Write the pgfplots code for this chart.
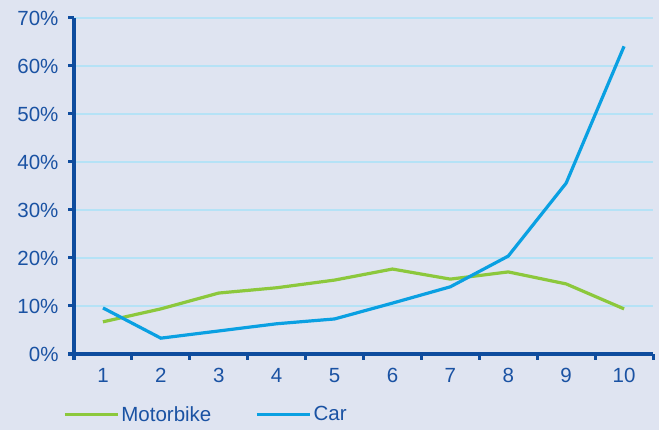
\documentclass[border=0pt]{standalone}
\usepackage{pgfplots}
\pgfplotsset{compat=1.18}
\usepackage{fontspec}
\setmainfont{Liberation Sans}
\definecolor{bg}{HTML}{DFE4F1}
\definecolor{gridc}{HTML}{B5E2F6}
\definecolor{axc}{HTML}{0E4C9E}
\definecolor{txt}{HTML}{1A52A3}
\definecolor{moto}{HTML}{8CC83C}
\definecolor{car}{HTML}{0AA0E2}
\begin{document}
\begin{tikzpicture}
\fill[bg] (0,0) rectangle (659bp,430bp);
\begin{axis}[
  at={(74bp,76bp)}, anchor=south west,
  width=579bp, height=336bp, scale only axis,
  xmin=0.5, xmax=10.5, ymin=0, ymax=70,
  xtick={0.5,1.5,...,10.5},
  xticklabels={1,2,3,4,5,6,7,8,9,10},
  x tick label as interval,
  ytick={0,10,...,70},
  yticklabels={0\%,10\%,20\%,30\%,40\%,50\%,60\%,70\%},
  axis lines*=left,
  axis line style={axc, line width=3bp},
  tick align=outside,
  major tick length=6bp,
  tick style={axc, line width=3bp},
  ymajorgrids,
  major grid style={gridc, line width=2bp},
  ticklabel style={font=\fontsize{20.5bp}{23bp}\selectfont, text=txt},
  yticklabel style={xshift=-6bp},
  xticklabel style={yshift=-5bp},
  legend columns=2,
  legend style={at={(-0.019,-0.18)}, anchor=west, draw=none, fill=none,
    font=\fontsize{20.5bp}{23bp}\selectfont, text=txt,
    /tikz/every even column/.append style={column sep=42bp},
    inner sep=0pt},
  legend image code/.code={\draw[#1] (0bp,0bp) -- (53bp,0bp);},
  clip=false,
]
\addplot[moto, line width=3.2bp] coordinates {
(1,6.7) (2,9.4) (3,12.7) (4,13.8) (5,15.4) (6,17.7) (7,15.6) (8,17.1) (9,14.6) (10,9.4)};
\addlegendentry{Motorbike}
\addplot[car, line width=3.2bp] coordinates {
(1,9.6) (2,3.3) (3,4.8) (4,6.3) (5,7.3) (6,10.6) (7,14.0) (8,20.4) (9,35.6) (10,64.1)};
\addlegendentry{Car}
\end{axis}
\end{tikzpicture}
\end{document}
